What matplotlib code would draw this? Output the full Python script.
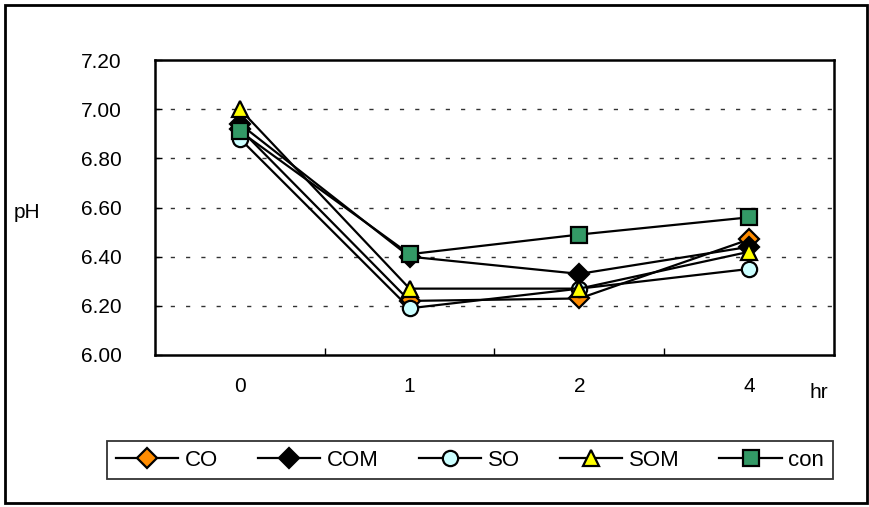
import matplotlib
matplotlib.use("Agg")
import matplotlib.pyplot as plt
from matplotlib.patches import Rectangle

plt.rcParams['font.family'] = ['Liberation Sans', 'DejaVu Sans']

hours = ["0", "1", "2", "4"]
co = [6.92, 6.22, 6.23, 6.47]
com = [6.94, 6.40, 6.33, 6.44]
so = [6.88, 6.19, 6.27, 6.35]
som = [7.00, 6.27, 6.27, 6.42]
con = [6.91, 6.41, 6.49, 6.56]

series = [
    ("CO", co, "D", "#FF8C00", 10),
    ("COM", com, "D", "#000000", 10),
    ("SO", so, "o", "#CCFFFF", 11),
    ("SOM", som, "^", "#FFFF00", 12),
    ("con", con, "s", "#339966", 11),
]

yticks = [6.00, 6.20, 6.40, 6.60, 6.80, 7.00, 7.20]

fig = plt.figure(figsize=(8.7, 5.07), dpi=100)
ax = fig.add_axes([155 / 870, 1 - 355 / 507, (834 - 155) / 870, (355 - 60) / 507])

x = list(range(len(hours)))
handles = []
for name, vals, mk, fc, ms in series:
    h, = ax.plot(x, vals, color="black", lw=1.6, marker=mk, markersize=ms,
                 markerfacecolor=fc, markeredgecolor="black", markeredgewidth=1.6,
                 label=name, zorder=3)
    handles.append(h)

ax.set_xlim(-0.5, len(hours) - 0.5)
ax.set_ylim(6.0, 7.2)
ax.set_yticks(yticks)
ax.set_yticklabels([f"{v:.2f}" for v in yticks], fontsize=15)
ax.set_xticks([i + 0.5 for i in range(len(hours) - 1)])
ax.set_xticklabels([])
ax.set_xticks(x, minor=True)
ax.set_xticklabels(hours, minor=True, fontsize=15)
ax.tick_params(axis="x", which="major", direction="in", length=5, width=1)
ax.tick_params(axis="x", which="minor", length=0, pad=16)
ax.tick_params(axis="y", direction="in", length=5, width=1, pad=24)

for v in yticks[1:-1]:
    ax.axhline(v, color="#333333", lw=1, ls=(0, (3, 8)), zorder=1)

for s in ax.spines.values():
    s.set_linewidth(1.8)

fig.text(14 / 870, 1 - 213 / 507, "pH", fontsize=15, va="center", ha="left")
fig.text(810 / 870, 1 - 393 / 507, "hr", fontsize=15, va="center", ha="left")

leg = fig.legend(handles=handles, loc="center", ncol=5,
                 bbox_to_anchor=(470 / 870, 1 - 460 / 507),
                 fontsize=16, handlelength=2.8, handletextpad=0.3,
                 columnspacing=1.8, frameon=True, fancybox=False,
                 borderpad=0.4)
leg.get_frame().set_edgecolor("black")
leg.get_frame().set_linewidth(1.3)

fig.patches.append(Rectangle((5 / 870, 4 / 507), 862 / 870, 498 / 507,
                             transform=fig.transFigure, fill=False,
                             edgecolor="black", lw=2))

fig.savefig("out.png", dpi=100)
